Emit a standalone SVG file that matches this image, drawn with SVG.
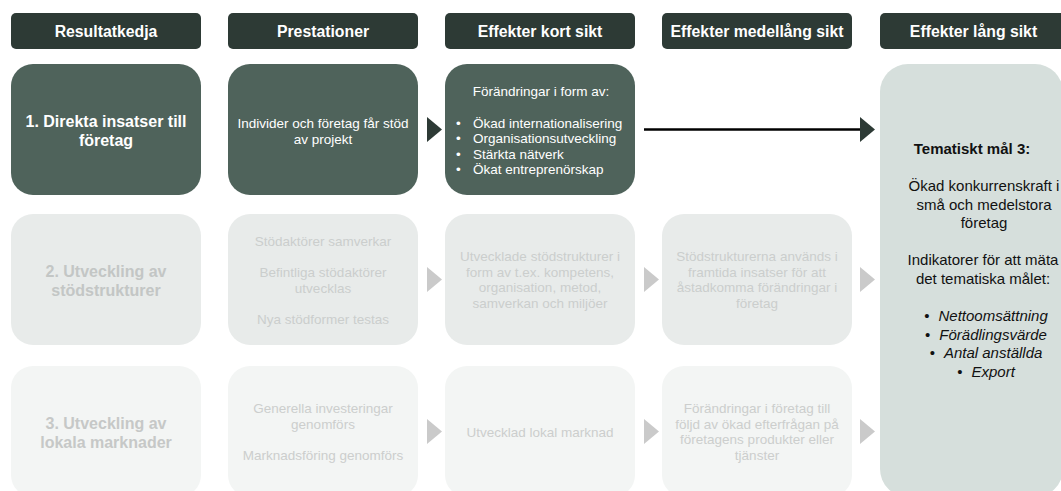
<svg xmlns="http://www.w3.org/2000/svg" width="1061" height="491" viewBox="0 0 1061 491">
  <style>
    text { font-family: "Liberation Sans", Arial, sans-serif; text-anchor: middle; }
    .hdr rect { fill: #2d3a35; }
    .hdr text { fill: #ffffff; font-weight: bold; font-size: 15.8px; }
    .r1 { fill: #4f635b; }
    .r2 { fill: #e8ebea; }
    .r3 { fill: #f3f5f4; }
    .panel { fill: #d6dfdc; }
    .t1b { fill: #ffffff; font-weight: bold; font-size: 16px; }
    .t1 { fill: #ffffff; font-size: 13.5px; }
    .t2b { fill: #c3c6c5; font-weight: bold; font-size: 16px; }
    .t2 { fill: #cbcecd; font-size: 13.5px; }
    .t3b { fill: #c6c8c7; font-weight: bold; font-size: 16px; }
    .t3 { fill: #cccecd; font-size: 13.5px; }
    .pt { fill: #111111; font-size: 15px; }
    .ptb { fill: #111111; font-size: 15px; font-weight: bold; }
    .it { font-style: italic; }
    .arrD { fill: #2d3a35; }
    .arrL { fill: #cacaca; }
    .line { stroke: #000000; stroke-width: 2.5; fill: none; }
  </style>

  <!-- Headers -->
  <g id="hdr-resultatkedja" class="hdr">
    <rect x="11" y="13" width="190" height="36" rx="5"/>
    <text x="106" y="36.5">Resultatkedja</text>
  </g>
  <g id="hdr-prestationer" class="hdr">
    <rect x="228" y="13" width="190" height="36" rx="5"/>
    <text x="323" y="36.5">Prestationer</text>
  </g>
  <g id="hdr-kort" class="hdr">
    <rect x="445" y="13" width="190" height="36" rx="5"/>
    <text x="540" y="36.5">Effekter kort sikt</text>
  </g>
  <g id="hdr-medel" class="hdr">
    <rect x="662" y="13" width="190" height="36" rx="5"/>
    <text x="757" y="36.5">Effekter medellång sikt</text>
  </g>
  <g id="hdr-lang" class="hdr">
    <rect x="880" y="13" width="187" height="36" rx="5"/>
    <text x="973.5" y="36.5">Effekter lång sikt</text>
  </g>

  <!-- Row 1 -->
  <g id="r1c1">
    <rect class="r1" x="11" y="64" width="190" height="131" rx="22"/>
    <text class="t1b"><tspan x="106" y="127">1. Direkta insatser till</tspan><tspan x="106" y="146">företag</tspan></text>
  </g>
  <g id="r1c2">
    <rect class="r1" x="228" y="64" width="190" height="131" rx="22"/>
    <text class="t1"><tspan x="323" y="128">Individer och företag får stöd</tspan><tspan x="323" y="143.5">av projekt</tspan></text>
  </g>
  <g id="r1c3">
    <rect class="r1" x="445" y="64" width="190" height="131" rx="22"/>
    <text class="t1" x="541" y="96">Förändringar i form av:</text>
    <g class="t1" style="text-anchor:start">
      <text x="456" y="127.5" style="text-anchor:start">•</text>
      <text x="473" y="127.5" style="text-anchor:start">Ökad internationalisering</text>
      <text x="456" y="143" style="text-anchor:start">•</text>
      <text x="473" y="143" style="text-anchor:start">Organisationsutveckling</text>
      <text x="456" y="158.5" style="text-anchor:start">•</text>
      <text x="473" y="158.5" style="text-anchor:start">Stärkta nätverk</text>
      <text x="456" y="174" style="text-anchor:start">•</text>
      <text x="473" y="174" style="text-anchor:start">Ökat entreprenörskap</text>
    </g>
  </g>

  <!-- Row 2 -->
  <g id="r2c1">
    <rect class="r2" x="11" y="214" width="190" height="131" rx="22"/>
    <text class="t2b"><tspan x="106" y="277">2. Utveckling av</tspan><tspan x="106" y="296">stödstrukturer</tspan></text>
  </g>
  <g id="r2c2">
    <rect class="r2" x="228" y="214" width="190" height="131" rx="22"/>
    <text class="t2"><tspan x="323" y="246">Stödaktörer samverkar</tspan><tspan x="323" y="277">Befintliga stödaktörer</tspan><tspan x="323" y="292.5">utvecklas</tspan><tspan x="323" y="323.5">Nya stödformer testas</tspan></text>
  </g>
  <g id="r2c3">
    <rect class="r2" x="445" y="214" width="190" height="131" rx="22"/>
    <text class="t2"><tspan x="540" y="261">Utvecklade stödstrukturer i</tspan><tspan x="540" y="276.5">form av t.ex. kompetens,</tspan><tspan x="540" y="292">organisation, metod,</tspan><tspan x="540" y="307.5">samverkan och miljöer</tspan></text>
  </g>
  <g id="r2c4">
    <rect class="r2" x="662" y="214" width="190" height="131" rx="22"/>
    <text class="t2"><tspan x="757" y="261">Stödstrukturerna används i</tspan><tspan x="757" y="276.5">framtida insatser för att</tspan><tspan x="757" y="292">åstadkomma förändringar i</tspan><tspan x="757" y="307.5">företag</tspan></text>
  </g>

  <!-- Row 3 -->
  <g id="r3c1">
    <rect class="r3" x="11" y="366" width="190" height="131" rx="22"/>
    <text class="t3b"><tspan x="106" y="429">3. Utveckling av</tspan><tspan x="106" y="448">lokala marknader</tspan></text>
  </g>
  <g id="r3c2">
    <rect class="r3" x="228" y="366" width="190" height="131" rx="22"/>
    <text class="t3"><tspan x="323" y="413">Generella investeringar</tspan><tspan x="323" y="428.5">genomförs</tspan><tspan x="323" y="459.5">Marknadsföring genomförs</tspan></text>
  </g>
  <g id="r3c3">
    <rect class="r3" x="445" y="366" width="190" height="131" rx="22"/>
    <text class="t3" x="540" y="437">Utvecklad lokal marknad</text>
  </g>
  <g id="r3c4">
    <rect class="r3" x="662" y="366" width="190" height="131" rx="22"/>
    <text class="t3"><tspan x="757" y="413">Förändringar i företag till</tspan><tspan x="757" y="428.5">följd av ökad efterfrågan på</tspan><tspan x="757" y="444">företagens produkter eller</tspan><tspan x="757" y="459.5">tjänster</tspan></text>
  </g>

  <!-- Right panel -->
  <g id="panel-mal">
    <rect class="panel" x="880" y="64" width="183" height="433" rx="28"/>
    <text class="ptb" x="972" y="154">Tematiskt mål 3:</text>
    <text class="pt"><tspan x="984" y="191">Ökad konkurrenskraft i</tspan><tspan x="984" y="209.5">små och medelstora</tspan><tspan x="984" y="228">företag</tspan></text>
    <text class="pt"><tspan x="983" y="265">Indikatorer för att mäta</tspan><tspan x="983" y="283.5">det tematiska målet:</tspan></text>
    <text class="pt" x="986" y="321">•<tspan dx="9" class="it">Nettoomsättning</tspan></text>
    <text class="pt" x="986" y="339.5">•<tspan dx="9" class="it">Förädlingsvärde</tspan></text>
    <text class="pt" x="986" y="358">•<tspan dx="9" class="it">Antal anställda</tspan></text>
    <text class="pt" x="986" y="376.5">•<tspan dx="9" class="it">Export</tspan></text>
  </g>

  <!-- Connectors -->
  <g id="connectors">
    <polygon class="arrD" points="427,117 442,129.5 427,142"/>
    <line class="line" x1="644" y1="129.5" x2="861" y2="129.5"/>
    <polygon class="arrD" points="860,117 875,129.5 860,142"/>

    <polygon class="arrL" points="427,267 442,279.5 427,292"/>
    <polygon class="arrL" points="644,267 659,279.5 644,292"/>
    <polygon class="arrL" points="860,267 875,279.5 860,292"/>

    <polygon class="arrL" points="427,419 442,431.5 427,444"/>
    <polygon class="arrL" points="644,419 659,431.5 644,444"/>
    <polygon class="arrL" points="860,419 875,431.5 860,444"/>
  </g>
</svg>
